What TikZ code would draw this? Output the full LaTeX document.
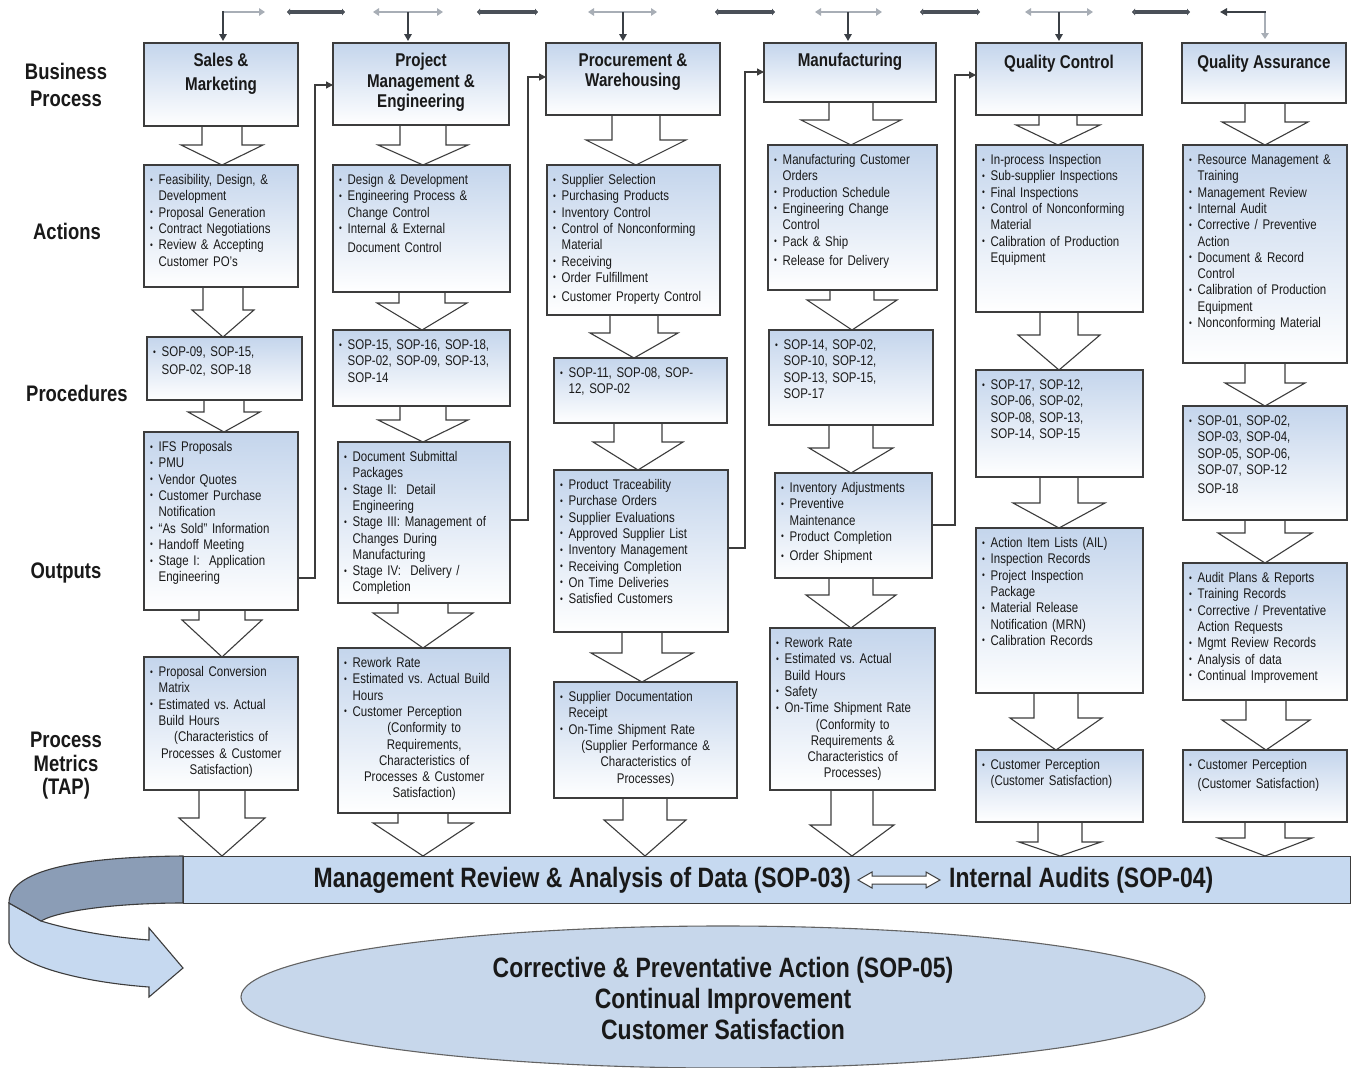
\documentclass[tikz,border=0pt]{standalone}
\usepackage{fontspec}
\setmainfont{Liberation Sans}[FakeStretch=0.82]
\usepackage{graphicx}
\usetikzlibrary{arrows.meta,calc}

\definecolor{boxblue}{RGB}{196,213,236}
\definecolor{edge}{RGB}{60,60,60}
\definecolor{barblue}{RGB}{198,217,240}
\definecolor{ribbondark}{RGB}{139,157,182}
\definecolor{ovalblue}{RGB}{199,215,235}
\definecolor{lightarr}{RGB}{168,174,182}
\definecolor{darkarr}{RGB}{74,80,88}
\definecolor{ink}{RGB}{25,25,25}

% bullet list helpers
\newcommand\bul{\makebox[8.5pt][l]{\raisebox{1.5pt}{\scalebox{0.7}{\textbullet}}}}
\newcommand\itm[1]{\par\noindent\bul#1}
\newcommand\cnt[1]{\par\noindent\hspace*{8.5pt}#1}
\newcommand\ctr[1]{\par{\centering #1\par}}
\newcommand\gap{\par\vspace{3pt}}

% block arrow: centre x, stem top, head start, tip, stem half width, head half width
\newcommand\blockarrow[6]{%
  \filldraw[blockarr] (#1-#5,#2) -- (#1-#5,#3) -- (#1-#6,#3) -- (#1,#4)
    -- (#1+#6,#3) -- (#1+#5,#3) -- (#1+#5,#2) -- cycle;}

% stage box: name, x1, y1, x2, y2
\newcommand\stagebox[5]{%
  \node[stage, minimum width={#4-#2}, minimum height={#5-#3}, anchor=north west] (#1) at (#2,#3) {};}

% box text: name, box, text width, content
\newcommand\boxtext[4]{%
  \node[txt, text width=#3pt] (#1) at ([xshift=6pt,yshift=-3pt]#2.north west) {\frenchspacing#4};}

\tikzset{
  stage/.style={draw=edge, line width=1.1pt, top color=boxblue, bottom color=white,
    inner sep=0pt, outer sep=0pt},
  blockarr/.style={draw=edge, line width=1.1pt, fill=white, line join=miter},
  txt/.style={anchor=north west, inner sep=0pt, align=left, text=ink,
    font=\fontsize{14}{16.3}\selectfont},
  headtxt/.style={anchor=north, inner sep=0pt, align=center, text=ink,
    font=\bfseries\fontsize{18.5}{20.5}\selectfont},
  rowlabel/.style={inner sep=0pt, align=center, text=ink,
    font=\bfseries\fontsize{22.5}{27}\selectfont},
  conn/.style={draw=edge, line width=1.3pt, -{Triangle[length=7pt,width=7pt]}},
  lightline/.style={draw=lightarr, line width=2.4pt},
  lighttip/.style={lightline, -{Triangle[length=6pt,width=7.5pt]}},
  lighttips/.style={lightline, {Triangle[length=6pt,width=7.5pt]}-{Triangle[length=6pt,width=7.5pt]}},
  darkdown/.style={draw=darkarr!80!black, line width=1.6pt, -{Triangle[length=7pt,width=7.5pt]}},
  darkbar/.style={draw=darkarr, line width=3.6pt, {Triangle[length=3pt,width=6.5pt]}-{Triangle[length=3pt,width=6.5pt]}},
  bigtxt/.style={inner sep=0pt, align=center, text=ink, font=\bfseries\fontsize{28}{31}\selectfont},
}

\begin{document}
\begin{tikzpicture}[x=1pt,y=-1pt]
\useasboundingbox (0,0) rectangle (1353,1068);
\fill[white] (0,0) rectangle (1353,1068);

% ---------- row labels ----------
\node[rowlabel] (lbus) at (66,85) {Business\\Process};
\node[rowlabel] (lact) at (67,231) {Actions};
\node[rowlabel] (lproc) at (77,393) {Procedures};
\node[rowlabel] (lout) at (66,573) {Outputs};
\node[rowlabel, font=\bfseries\fontsize{22.5}{23.5}\selectfont] (lmet) at (66,766) {Process\\Metrics\\(TAP)};

% ---------- block arrows between the stages ----------
% Sales & Marketing
\blockarrow{222}{126}{145}{165}{20}{41}
\blockarrow{223}{287}{310}{337}{20}{31}
\blockarrow{224}{400}{412}{432}{20}{36}
\blockarrow{222}{610}{620}{657}{23}{40}
\blockarrow{222}{790}{818}{856}{23}{43}
% Project Management & Engineering
\blockarrow{423}{125}{145}{165}{23}{45}
\blockarrow{422}{292}{303}{330}{23}{45}
\blockarrow{423}{406}{420}{442}{23}{45}
\blockarrow{423}{603}{613}{648}{25}{50}
\blockarrow{423}{813}{823}{856}{25}{50}
% Procurement & Warehousing
\blockarrow{636}{115}{140}{165}{24}{50}
\blockarrow{634}{315}{333}{358}{24}{44}
\blockarrow{638}{423}{442}{470}{24}{45}
\blockarrow{642}{632}{653}{682}{20}{51}
\blockarrow{645}{798}{820}{856}{22}{41}
% Manufacturing
\blockarrow{851}{102}{120}{145}{22}{50}
\blockarrow{852}{290}{300}{330}{22}{45}
\blockarrow{851}{425}{448}{473}{22}{42}
\blockarrow{851}{578}{595}{628}{22}{45}
\blockarrow{852}{790}{825}{856}{21}{42}
% Quality Control
\blockarrow{1058}{115}{125}{145}{19}{42}
\blockarrow{1059}{312}{335}{370}{19}{41}
\blockarrow{1059}{477}{503}{528}{19}{46}
\blockarrow{1056}{693}{718}{750}{22}{46}
\blockarrow{1060}{822}{842}{856}{22}{41}
% Quality Assurance
\blockarrow{1265}{103}{122}{145}{20}{43}
\blockarrow{1265}{363}{383}{406}{20}{40}
\blockarrow{1265}{520}{533}{563}{20}{47}
\blockarrow{1266}{700}{720}{750}{20}{44}
\blockarrow{1265}{822}{838}{856}{20}{47}

% ---------- stage boxes ----------
\stagebox{h1}{144}{43}{298}{126}
\stagebox{a1}{144}{165}{298}{287}
\stagebox{p1}{147}{337}{302}{400}
\stagebox{o1}{144}{432}{298}{610}
\stagebox{m1}{144}{657}{298}{790}

\stagebox{h2}{333}{43}{509}{125}
\stagebox{a2}{333}{165}{510}{292}
\stagebox{p2}{333}{330}{510}{406}
\stagebox{o2}{338}{442}{510}{603}
\stagebox{m2}{338}{648}{510}{813}

\stagebox{h3}{546}{43}{720}{115}
\stagebox{a3}{547}{165}{720}{315}
\stagebox{p3}{554}{358}{727}{423}
\stagebox{o3}{554}{470}{728}{632}
\stagebox{m3}{554}{682}{737}{798}

\stagebox{h4}{764}{43}{936}{102}
\stagebox{a4}{768}{145}{937}{290}
\stagebox{p4}{769}{330}{933}{425}
\stagebox{o4}{775}{473}{932}{578}
\stagebox{m4}{770}{628}{935}{790}

\stagebox{h5}{976}{43}{1142}{115}
\stagebox{a5}{976}{145}{1143}{312}
\stagebox{p5}{976}{370}{1143}{477}
\stagebox{o5}{976}{528}{1143}{693}
\stagebox{m5}{976}{750}{1143}{822}

\stagebox{h6}{1182}{43}{1346}{103}
\stagebox{a6}{1183}{145}{1347}{363}
\stagebox{p6}{1183}{406}{1347}{520}
\stagebox{o6}{1183}{563}{1347}{700}
\stagebox{m6}{1183}{750}{1347}{822}

% ---------- stage titles ----------
\node[headtxt] (th1) at ([yshift=-10pt]h1.north) {Sales \&\\[3.5pt]Marketing};
\node[headtxt] (th2) at ([yshift=-10pt]h2.north) {Project\\Management \&\\Engineering};
\node[headtxt] (th3) at ([yshift=-10pt]h3.north) {Procurement \&\\Warehousing};
\node[headtxt] (th4) at ([yshift=-10pt]h4.north) {Manufacturing};
\node[headtxt] (th5) at ([yshift=-12pt]h5.north) {Quality Control};
\node[headtxt] (th6) at ([yshift=-12pt]h6.north) {Quality Assurance};

% ---------- box texts ----------
\boxtext{ta1}{a1}{142}{\itm{Feasibility, Design, \&}\cnt{Development}\itm{Proposal Generation}\itm{Contract Negotiations}\itm{Review \& Accepting}\cnt{Customer PO's}}
\boxtext{tp1}{p1}{143}{\itm{SOP-09, SOP-15,}\par\vspace{1.5pt}\cnt{SOP-02, SOP-18}}
\boxtext{to1}{o1}{142}{\itm{IFS Proposals}\itm{PMU}\itm{Vendor Quotes}\itm{Customer Purchase}\cnt{Notification}\itm{“As Sold” Information}\itm{Handoff Meeting}\itm{Stage I:\ \ Application}\cnt{Engineering}}
\boxtext{tm1}{m1}{142}{\itm{Proposal Conversion}\cnt{Matrix}\itm{Estimated vs. Actual}\cnt{Build Hours}\ctr{(Characteristics of}\ctr{Processes \& Customer}\ctr{Satisfaction)}}

\boxtext{ta2}{a2}{165}{\itm{Design \& Development}\itm{Engineering Process \&}\cnt{Change Control}\itm{Internal \& External}\gap\cnt{Document Control}}
\boxtext{tp2}{p2}{165}{\itm{SOP-15, SOP-16, SOP-18,}\cnt{SOP-02, SOP-09, SOP-13,}\cnt{SOP-14}}
\boxtext{to2}{o2}{160}{\itm{Document Submittal}\cnt{Packages}\itm{Stage II:\ \ Detail}\cnt{Engineering}\itm{Stage III: Management of}\cnt{Changes During}\cnt{Manufacturing}\itm{Stage IV:\ \ Delivery /}\cnt{Completion}}
\boxtext{tm2}{m2}{160}{\itm{Rework Rate}\itm{Estimated vs. Actual Build}\cnt{Hours}\itm{Customer Perception}\ctr{(Conformity to}\ctr{Requirements,}\ctr{Characteristics of}\ctr{Processes \& Customer}\ctr{Satisfaction)}}

\boxtext{ta3}{a3}{161}{\itm{Supplier Selection}\itm{Purchasing Products}\itm{Inventory Control}\itm{Control of Nonconforming}\cnt{Material}\itm{Receiving}\itm{Order Fulfillment}\gap\itm{Customer Property Control}}
\boxtext{tp3}{p3}{161}{\itm{SOP-11, SOP-08, SOP-}\cnt{12, SOP-02}}
\boxtext{to3}{o3}{162}{\itm{Product Traceability}\itm{Purchase Orders}\itm{Supplier Evaluations}\itm{Approved Supplier List}\itm{Inventory Management}\itm{Receiving Completion}\itm{On Time Deliveries}\itm{Satisfied Customers}}
\boxtext{tm3}{m3}{171}{\itm{Supplier Documentation}\cnt{Receipt}\itm{On-Time Shipment Rate}\ctr{(Supplier Performance \&}\ctr{Characteristics of}\ctr{Processes)}}

\boxtext{ta4}{a4}{157}{\itm{Manufacturing Customer}\cnt{Orders}\itm{Production Schedule}\itm{Engineering Change}\cnt{Control}\itm{Pack \& Ship}\gap\itm{Release for Delivery}}
\boxtext{tp4}{p4}{152}{\itm{SOP-14, SOP-02,}\cnt{SOP-10, SOP-12,}\cnt{SOP-13, SOP-15,}\cnt{SOP-17}}
\boxtext{to4}{o4}{145}{\itm{Inventory Adjustments}\itm{Preventive}\cnt{Maintenance}\itm{Product Completion}\gap\itm{Order Shipment}}
\boxtext{tm4}{m4}{153}{\itm{Rework Rate}\itm{Estimated vs. Actual}\cnt{Build Hours}\itm{Safety}\itm{On-Time Shipment Rate}\ctr{(Conformity to}\ctr{Requirements \&}\ctr{Characteristics of}\ctr{Processes)}}

\boxtext{ta5}{a5}{155}{\itm{In-process Inspection}\itm{Sub-supplier Inspections}\itm{Final Inspections}\itm{Control of Nonconforming}\cnt{Material}\itm{Calibration of Production}\cnt{Equipment}}
\boxtext{tp5}{p5}{155}{\itm{SOP-17, SOP-12,}\cnt{SOP-06, SOP-02,}\cnt{SOP-08, SOP-13,}\cnt{SOP-14, SOP-15}}
\boxtext{to5}{o5}{155}{\itm{Action Item Lists (AIL)}\itm{Inspection Records}\itm{Project Inspection}\cnt{Package}\itm{Material Release}\cnt{Notification (MRN)}\itm{Calibration Records}}
\boxtext{tm5}{m5}{155}{\itm{Customer Perception}\cnt{(Customer Satisfaction)}}

\boxtext{ta6}{a6}{152}{\itm{Resource Management \&}\cnt{Training}\itm{Management Review}\itm{Internal Audit}\itm{Corrective / Preventive}\cnt{Action}\itm{Document \& Record}\cnt{Control}\itm{Calibration of Production}\cnt{Equipment}\itm{Nonconforming Material}}
\boxtext{tp6}{p6}{152}{\itm{SOP-01, SOP-02,}\cnt{SOP-03, SOP-04,}\cnt{SOP-05, SOP-06,}\cnt{SOP-07, SOP-12}\gap\cnt{SOP-18}}
\boxtext{to6}{o6}{152}{\itm{Audit Plans \& Reports}\itm{Training Records}\itm{Corrective / Preventative}\cnt{Action Requests}\itm{Mgmt Review Records}\itm{Analysis of data}\itm{Continual Improvement}}
\boxtext{tm6}{m6}{152}{\itm{Customer Perception}\gap\cnt{(Customer Satisfaction)}}

% ---------- hand-over connectors (outputs -> next stage) ----------
\draw[conn] ([yshift=32pt]o1.south east) -- ++(17,0) |- ([yshift=-42pt]h2.north west);
\draw[conn] ([yshift=83pt]o2.south east) -- ++(18,0) |- ([yshift=-34pt]h3.north west);
\draw[conn] ([yshift=84pt]o3.south east) -- ++(17,0) |- ([yshift=-29pt]h4.north west);
\draw[conn] ([yshift=53pt]o4.south east) -- ++(23,0) |- ([yshift=-32pt]h5.north west);

% ---------- top interaction arrows ----------
\coordinate (t1) at (223,12);   \coordinate (t1r) at (265,12);
\coordinate (t2l) at (373,12);  \coordinate (t2) at (408,12);  \coordinate (t2r) at (443,12);
\coordinate (t3l) at (588,12);  \coordinate (t3) at (623,12);  \coordinate (t3r) at (657,12);
\coordinate (t4l) at (815,12);  \coordinate (t4) at (848,12);  \coordinate (t4r) at (882,12);
\coordinate (t5l) at (1025,12); \coordinate (t5) at (1059,12); \coordinate (t5r) at (1093,12);
\coordinate (t6) at (1265,12);  \coordinate (t6l) at (1220,12);

\draw[lighttip] (t1) -- (t1r);
\draw[darkdown] ([yshift=1.2pt]t1) -- ([yshift=2pt]t1 |- h1.north);
\draw[lighttips] (t2l) -- (t2r);
\draw[darkdown] (t2) -- ([yshift=2pt]t2 |- h2.north);
\draw[lighttips] (t3l) -- (t3r);
\draw[darkdown] (t3) -- ([yshift=2pt]t3 |- h3.north);
\draw[lighttips] (t4l) -- (t4r);
\draw[darkdown] (t4) -- ([yshift=2pt]t4 |- h4.north);
\draw[lighttips] (t5l) -- (t5r);
\draw[darkdown] (t5) -- ([yshift=2pt]t5 |- h5.north);
\draw[lighttip] ([yshift=1.2pt]t6) -- ([yshift=4pt]t6 |- h6.north);
\draw[darkdown] ([xshift=0.8pt]t6) -- (t6l);

\coordinate (b1l) at (287,12);  \coordinate (b1r) at (345,12);
\coordinate (b2l) at (477,12);  \coordinate (b2r) at (538,12);
\coordinate (b3l) at (715,12);  \coordinate (b3r) at (775,12);
\coordinate (b4l) at (920,12);  \coordinate (b4r) at (980,12);
\coordinate (b5l) at (1132,12); \coordinate (b5r) at (1190,12);
\foreach \k in {1,...,5} {\draw[darkbar] (b\k l) -- (b\k r);}

% ---------- review bar with looping ribbon ----------
\filldraw[fill=barblue, draw=edge, line width=1.1pt]
  (41,921) .. controls (70,930) and (110,937) .. (149,940) -- (149,928) -- (183,968)
  -- (149,997) -- (149,987) .. controls (80,982) and (15,965) .. (9,943) -- (9,903) -- cycle;
\filldraw[fill=ribbondark, draw=edge, line width=1.1pt]
  (183,856) .. controls (70,857) and (9,872) .. (9,903) -- (41,921)
  .. controls (60,910) and (120,903) .. (183,903) -- cycle;
\node[draw=edge, line width=1.1pt, fill=barblue, minimum width=1167pt, minimum height=47pt,
  anchor=north west, inner sep=0pt] (bar) at (183,856) {};

\node[bigtxt, anchor=east] (mgmt) at (851,880) {Management Review \& Analysis of Data (SOP-03)};
\node[bigtxt, anchor=west] (audit) at (949,880) {Internal Audits (SOP-04)};
\filldraw[fill=white, draw=edge, line width=1pt]
  ([xshift=7pt]mgmt.east) -- ++(14,-8) -- ++(0,4) -- ++(54,0) -- ++(0,-4) -- ([xshift=-9pt]audit.west)
  -- ++(-14,8) -- ++(0,-4) -- ++(-54,0) -- ++(0,4) -- cycle;

% ---------- improvement oval ----------
\filldraw[fill=ovalblue, draw=edge!80, line width=1.1pt] (723,997) ellipse [x radius=482, y radius=71];
\node[bigtxt] (cpa) at (723,998) {Corrective \& Preventative Action (SOP-05)\\Continual Improvement\\Customer Satisfaction};

\end{tikzpicture}
\end{document}
